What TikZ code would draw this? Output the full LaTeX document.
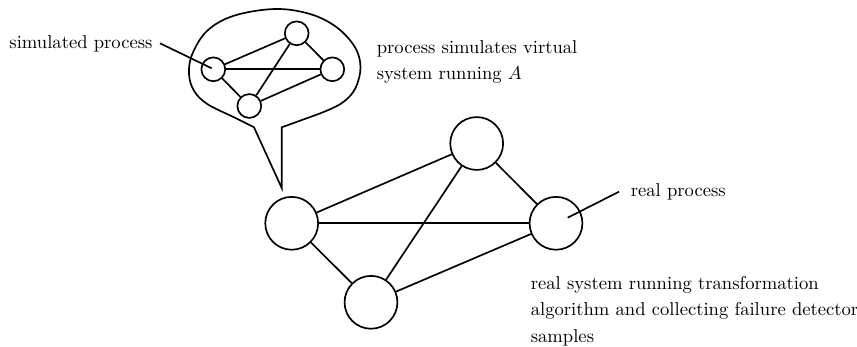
\documentclass[tikz,border=0pt]{standalone}
\begin{document}
\begin{tikzpicture}[x=0.5374pt,y=-0.5374pt,
  line width=0.9pt,
  bigproc/.style={circle,draw,inner sep=0pt,minimum size=28.4pt},
  smallproc/.style={circle,draw,inner sep=0pt,minimum size=12.8pt},
  lbl/.style={inner sep=0pt,font=\fontsize{10}{14}\selectfont,align=left}]
\useasboundingbox (0,0) rectangle (857,347);
% big graph
\node[bigproc] (L) at (291.7,223.3) {};
\node[bigproc] (T) at (476.7,143.5) {};
\node[bigproc] (R) at (556,223.3) {};
\node[bigproc] (B) at (371,302.3) {};
\draw (L) -- (T);
\draw (L) -- (R);
\draw (L) -- (B);
\draw (T) -- (R);
\draw (T) -- (B);
\draw (B) -- (R);
% bubble
\draw[line join=miter] plot[smooth,tension=0.6] coordinates {(281.7,127.3) (300,120.7) (326.7,110.7) (344,101.5) (355.5,88) (360.5,67.3) (355,47.3) (336.7,27.3) (310,14) (275,9) (234,15.7) (207.3,30.7) (192.3,54) (189,74) (194,90.7) (207.3,104) (234,117.3) (254,127.3)}
  -- (281.7,188) -- cycle;
% small graph
\node[smallproc] (sL) at (213.3,69.3) {};
\node[smallproc] (sT) at (296.7,33.3) {};
\node[smallproc] (sR) at (332.3,69.3) {};
\node[smallproc] (sB) at (249.3,106) {};
\draw (sL) -- (sT);
\draw (sL) -- (sR);
\draw (sL) -- (sB);
\draw (sT) -- (sR);
\draw (sT) -- (sB);
\draw (sB) -- (sR);
% labels
\node[lbl,anchor=base east] (simlbl) at (153.3,48.3) {simulated process};
\coordinate (simA) at (160,43.3);
\coordinate (simB) at (211.7,68.3);
\draw (simA) -- (simB);
\node[lbl,anchor=base west] (virt) at (376,80) {process simulates virtual\\system running $A$};
\node[lbl,anchor=base west] (reallbl) at (630,196) {real process};
\coordinate (realA) at (619,191.7);
\coordinate (realB) at (567.7,217.7);
\draw (realA) -- (realB);
\node[lbl,anchor=base west] (sys) at (530,342) {real system running transformation\\algorithm and collecting failure detector\\samples};
\end{tikzpicture}
\end{document}
